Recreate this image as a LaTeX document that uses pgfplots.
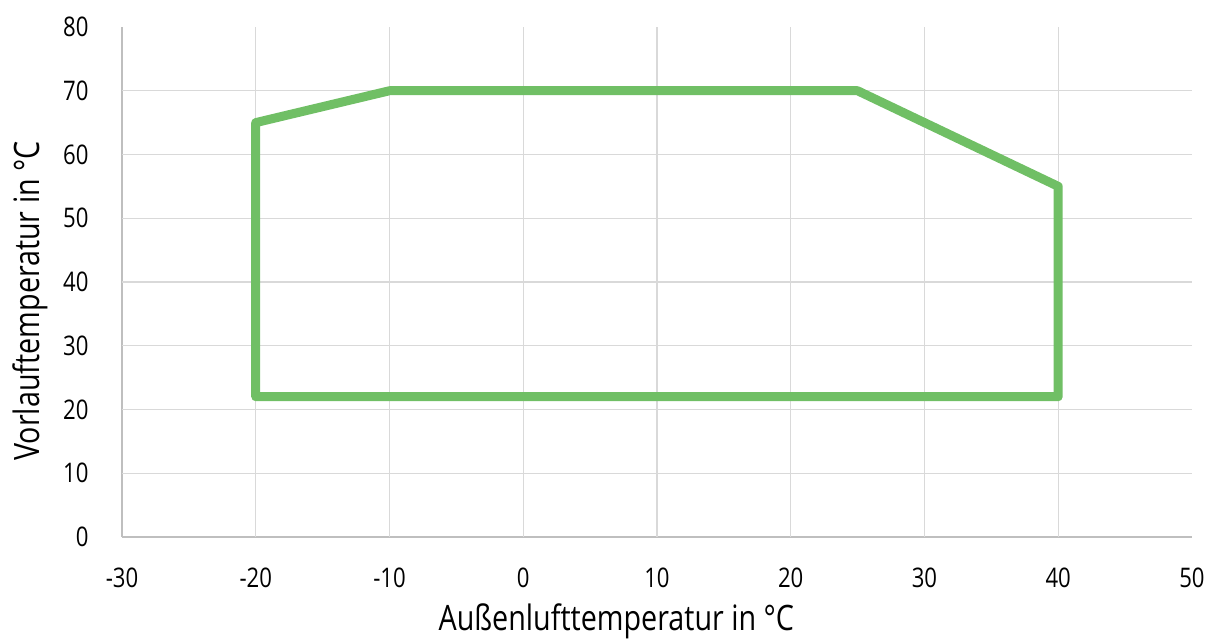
\documentclass[border=0pt]{standalone}
\usepackage{fontspec}
\setmainfont[FakeStretch=0.82]{Open Sans}
\usepackage{pgfplots}
\pgfplotsset{compat=1.18}
\definecolor{mygreen}{RGB}{112, 191, 101}
\definecolor{gridgray}{RGB}{217, 217, 217}
\definecolor{axisgray}{RGB}{191, 191, 191}
\begin{document}
\begin{tikzpicture}
  % 1 px of the reference = 1 pt here
  \useasboundingbox (-122pt,-102pt) rectangle (1092pt,537pt);
  \begin{axis}[
      at={(0,0)}, anchor=south west,
      scale only axis,
      width=1070pt, height=510pt,
      xmin=-30, xmax=50,
      ymin=0, ymax=80,
      xtick={-30,-20,...,50},
      ytick={0,10,...,80},
      axis lines=left,
      axis line style={axisgray, line width=2pt, -},
      major tick length=0pt,
      tick label style={font=\fontsize{27}{30}\selectfont},
      /pgf/number format/assume math mode=true,
      xticklabel style={anchor=center, yshift=-41pt},
      yticklabel style={anchor=east, xshift=-30pt},
      xlabel={Außenlufttemperatur in °C},
      ylabel={Vorlauftemperatur in °C},
      label style={font=\fontsize{35}{38}\selectfont},
      xlabel style={at={(axis description cs:0.462,0)}, anchor=center, yshift=-84pt},
      ylabel style={at={(axis description cs:-0.086,0.463)}, anchor=center},
      clip=false,
    ]
    % grid without the lines at x=50 and y=80
    \pgfplotsinvokeforeach{-20,-10,...,40}{
      \draw[gridgray, line width=1.2pt] (axis cs:#1,0) -- (axis cs:#1,80);
    }
    \pgfplotsinvokeforeach{10,20,...,70}{
      \draw[gridgray, line width=1.2pt] (axis cs:-30,#1) -- (axis cs:50,#1);
    }
    \addplot [mygreen, line width=9pt, line join=round, line cap=round] coordinates {
        (-20,22)
        (-20,65)
        (-10,70)
        (25,70)
        (40,55)
        (40,22)
      } -- cycle;
  \end{axis}
\end{tikzpicture}
\end{document}
